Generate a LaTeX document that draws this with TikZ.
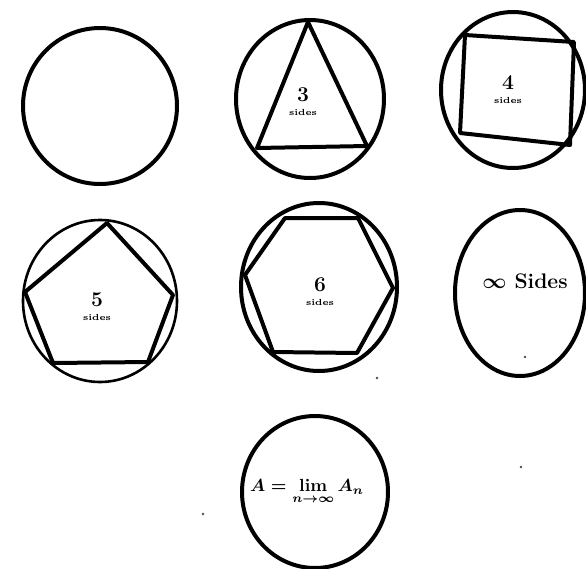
\documentclass[tikz,border=0pt]{standalone}
\usepackage{amsmath}
\begin{document}
\begin{tikzpicture}[x=0.02cm,y=-0.02cm,
  rim/.style={line width=4pt*0.569,line join=round},
  thinrim/.style={line width=2.6pt*0.569},
  poly/.style={line width=4pt*0.569,line join=round},
  num/.style={font=\large\bfseries},
  sidestxt/.style={font=\tiny\bfseries},
  speck/.style={fill=black!70}]
  \useasboundingbox (0,0) rectangle (586,569);
  % tom sirkel
  \draw[rim] (100,106) ellipse [x radius=77,y radius=78];
  % trekant
  \draw[rim] (310,99) ellipse [x radius=74,y radius=79];
  \draw[poly] (308,22) -- (257,148) -- (367,146) -- cycle;
  \node[num] (n3) at (303,95) {3};
  \node[sidestxt] (s3) at (303,112) {sides};
  % kvadrat
  \draw[rim] (513,90) ellipse [x radius=72,y radius=78];
  \draw[poly] (465,35) -- (574,42) -- (570,145) -- (460,133) -- cycle;
  \node[num] (n4) at (508,83) {4};
  \node[sidestxt] (s4) at (508,100) {sides};
  % femkant
  \draw[thinrim] (100,301) ellipse [x radius=77,y radius=81];
  \draw[poly] (107,223) -- (173,295) -- (148,362) -- (53,363) -- (25,292) -- cycle;
  \node[num] (n5) at (97,300) {5};
  \node[sidestxt] (s5) at (97,317) {sides};
  % sekskant
  \draw[rim] (319,287) ellipse [x radius=78,y radius=84];
  \draw[poly] (285,218) -- (358,218) -- (393,288) -- (357,353) -- (273,352) -- (245,275) -- cycle;
  \node[num] (n6) at (320,285) {6};
  \node[sidestxt] (s6) at (320,302) {sides};
  % uendelig mange sider
  \draw[rim] (520,293) ellipse [x radius=65,y radius=83];
  \node[font=\large\bfseries] (ninf) at (525,281) {$\boldsymbol{\infty}$ Sides};
  % grense
  \draw[rim] (315,492) ellipse [x radius=73,y radius=76];
  \node (lim) at (307,492) {$\boldsymbol{A = \lim\limits_{n\to\infty} A_n}$};
  % flekker
  \foreach \p in {(525,357),(521,467),(203,514),(377,378)}
    \fill[speck] \p circle (1.3);
\end{tikzpicture}
\end{document}
